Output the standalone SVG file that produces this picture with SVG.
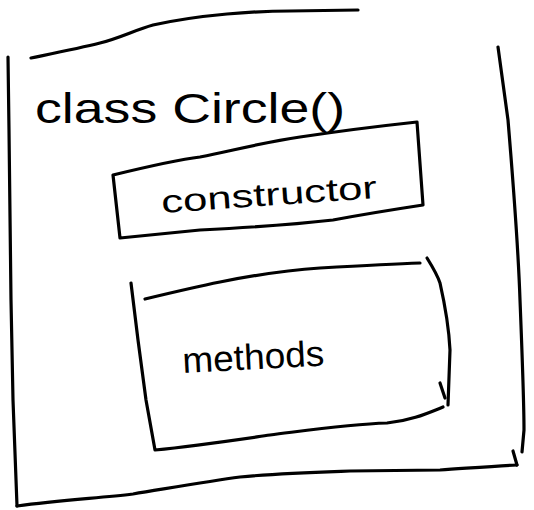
<svg xmlns="http://www.w3.org/2000/svg" width="534" height="510" viewBox="0 0 534 510">
<style>
.s{fill:none;stroke:#000;stroke-width:3.2;stroke-linecap:round;stroke-linejoin:round}
.t{font-family:"Liberation Sans",Arial,sans-serif;fill:#000}
</style>
<rect width="534" height="510" fill="#fff"/>
<g id="class-circle">
<path class="s" d="M31,58 C60,52 80,48 100,43 C120,38 135,30 153,25 C180,19 205,16 227,14 C250,12 270,11 290,11 L358,10"/>
<path class="s" d="M8,57 L9,130 L11,300 L13,400 L17,506"/>
<path class="s" d="M17,506 C60,500 100,498 133,494 C170,488 210,481 240,477 C280,473 320,472 350,471 L440,470 C470,468 495,466 517,465"/>
<path class="s" d="M498,47 L508,120 C513,180 518,240 520,300 C522,350 524,400 524,430 L522,452"/>
<path class="s" d="M513,451 L517,465"/>
<text class="t" x="35" y="123" font-size="42" textLength="310" lengthAdjust="spacingAndGlyphs">class Circle()</text>
</g>
<g id="constructor">
<path class="s" d="M113,175 C150,166 175,160 200,157 C235,150 265,142 300,137 C340,131 380,126 417,122 L423,205 C390,210 360,215 333,220 C290,225 240,228 200,230 L120,238 Z"/>
<text class="t" x="162" y="213" font-size="32" textLength="216" lengthAdjust="spacingAndGlyphs" transform="rotate(-4 162 213)">constructor</text>
</g>
<g id="methods">
<path class="s" d="M145,299 C170,293 195,287 220,282 C255,275 290,270 320,268 C355,266 390,264 420,263"/>
<path class="s" d="M131,283 L138,340 L146,400 L155,450 C195,446 235,440 270,435 C310,430 350,424 387,423 C410,421 428,413 443,407"/>
<path class="s" d="M427,258 C432,266 437,274 440,283 C445,305 449,330 450,350 L448,405"/>
<path class="s" d="M440,383 L445,398"/>
<text class="t" x="183" y="373" font-size="36" textLength="142" lengthAdjust="spacingAndGlyphs" transform="rotate(-3 183 373)">methods</text>
</g>
<g id="connectors"></g>
</svg>
